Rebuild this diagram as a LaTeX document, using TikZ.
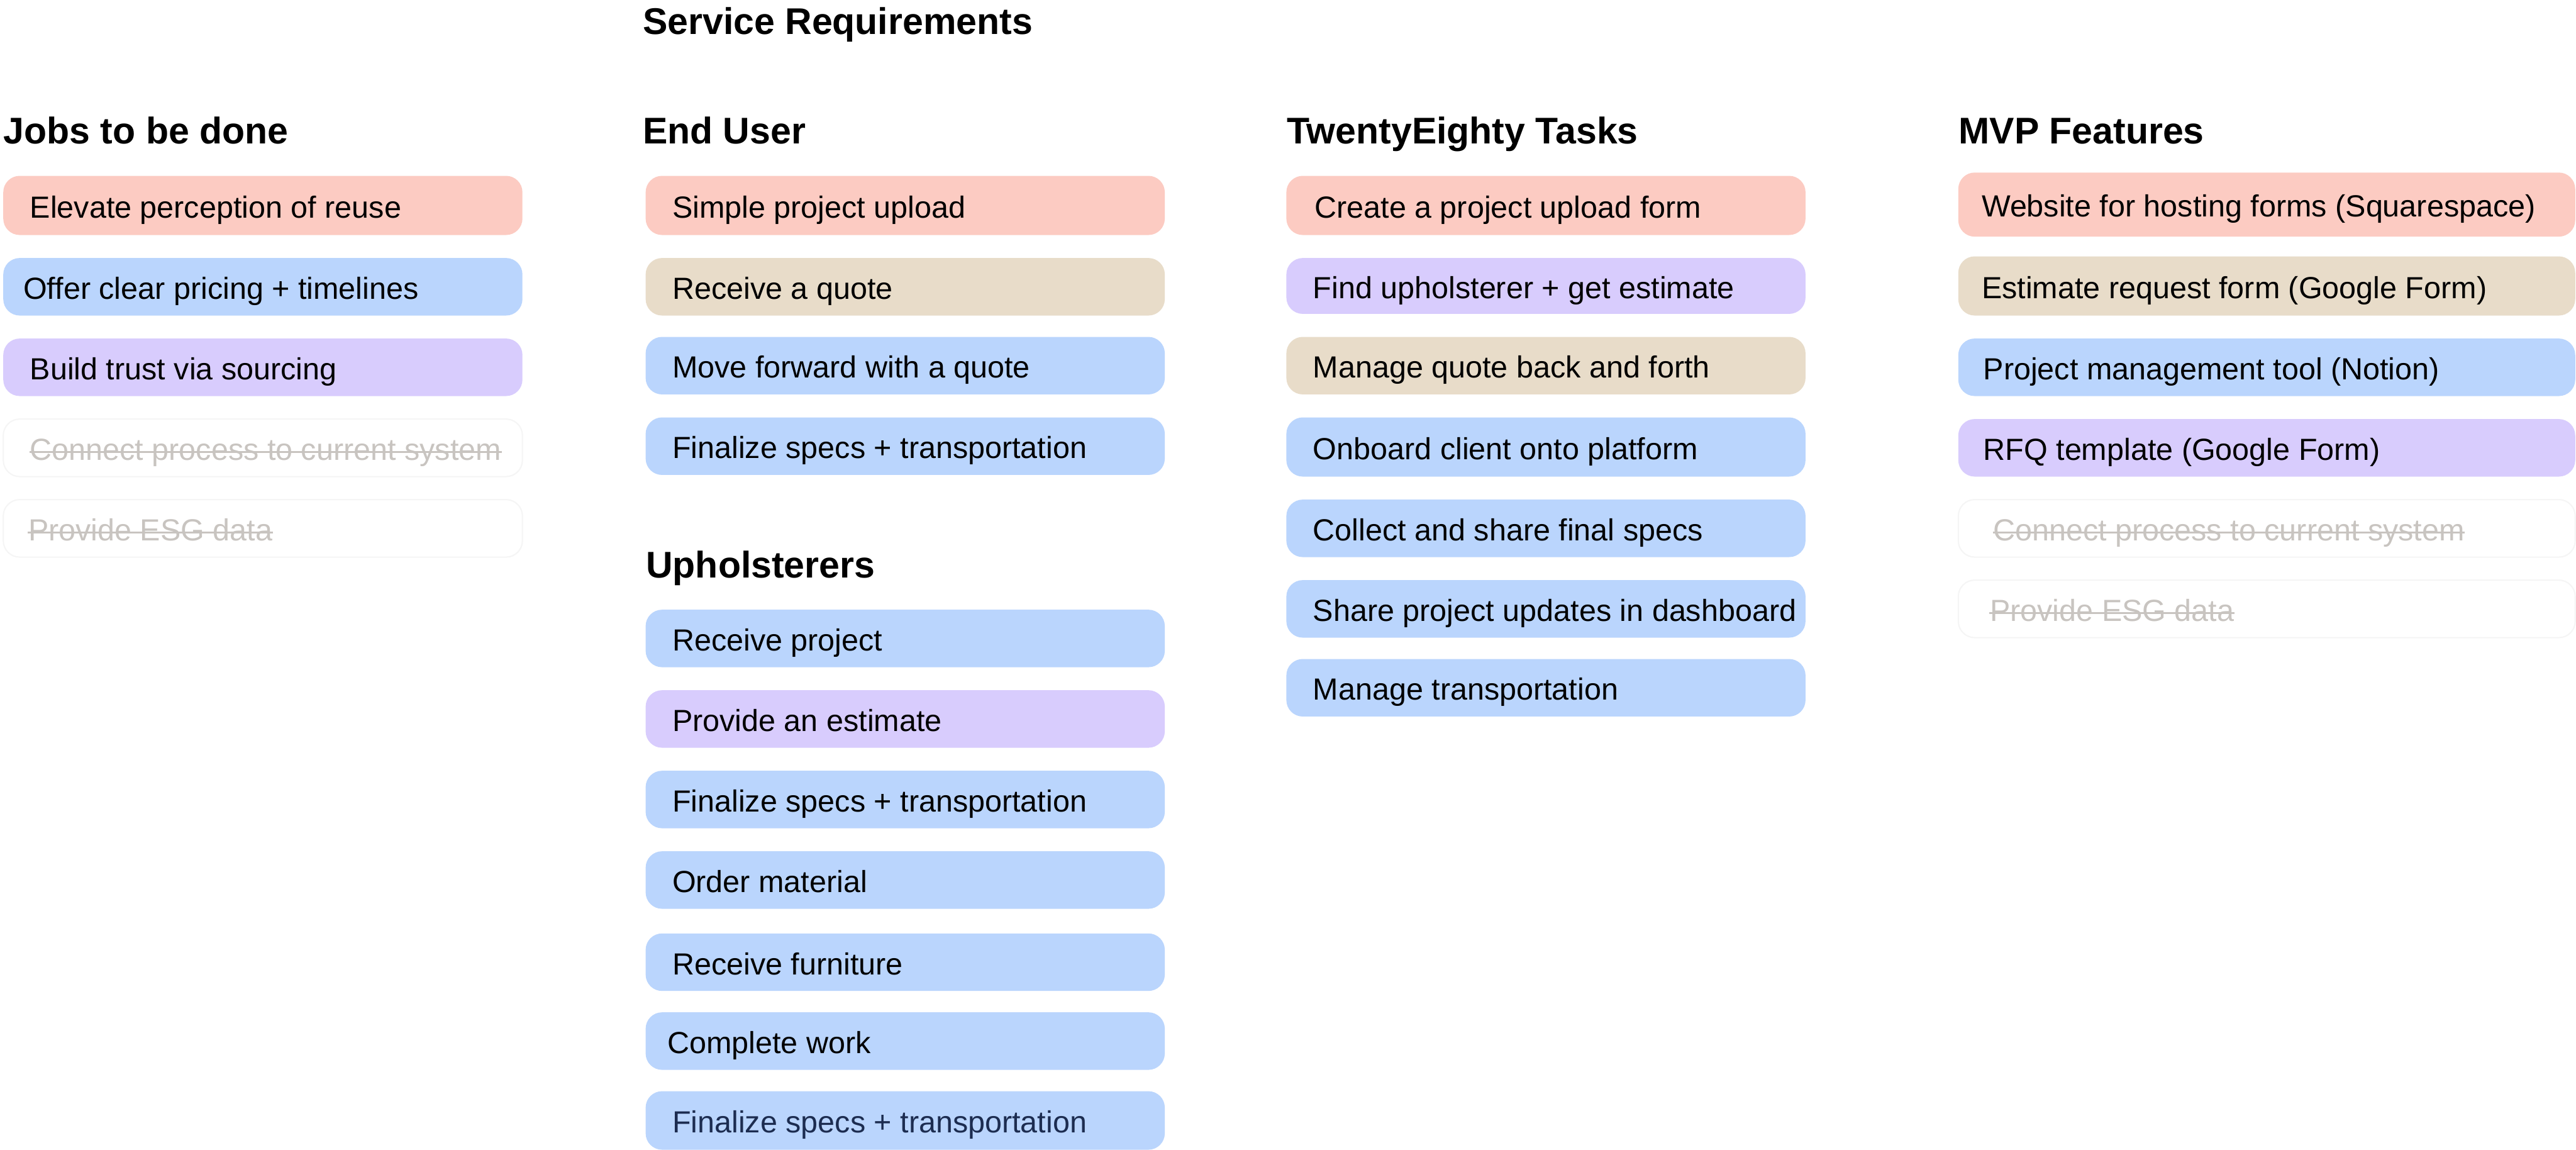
\documentclass[tikz,border=0pt]{standalone}
\usepackage{fontspec}
\setmainfont{Liberation Sans}
\usetikzlibrary{fit}
\definecolor{csalmon}{HTML}{FCCBC2}
\definecolor{cblue}{HTML}{BAD5FD}
\definecolor{cpurple}{HTML}{D8CCFD}
\definecolor{cbeige}{HTML}{E8DCC9}
\definecolor{cfade}{HTML}{C8C4C0}
\definecolor{cfadeline}{HTML}{F5F5F5}
\definecolor{cnavy}{HTML}{1C2C50}
\tikzset{
  card/.style={rounded corners=0.27cm, inner sep=0pt, draw=none},
  fadecard/.style={card, fill=white, draw=cfadeline, line width=0.6pt},
  cardtxt/.style={anchor=base west, inner sep=0pt, font=\fontsize{14.3}{17}\selectfont, yshift=-5.8pt},
  headtxt/.style={anchor=base west, inner sep=0pt, font=\fontsize{17.4}{21}\selectfont\bfseries},
  strike/.style={draw=cfade, line width=0.9pt},
}
\newcommand\card[8]{%
  \node[card, fill=#6, fit={(#2,#3)(#4,#5)}] (#1) {};
  \node[cardtxt] (#1t) at (#7,0 |- #1.center) {#8};
}
\newcommand\fcard[7]{%
  \node[fadecard, fit={(#2,#3)(#4,#5)}] (#1) {};
  \node[cardtxt, text=cfade] (#1t) at (#6,0 |- #1.center) {#7};
  \draw[strike] ([yshift=3.8pt]#1t.base west) -- ([yshift=3.8pt]#1t.base east);
}
\begin{document}
\begin{tikzpicture}[x=0.027073cm, y=-0.027073cm]
\useasboundingbox (0,0) rectangle (1568,699.6);
\fill[white] (0,0) rectangle (1568,699.6);

% headings
\node[headtxt] (title) at (391,21) {Service Requirements};
\node[headtxt] (hjobs) at (2,87.5) {Jobs to be done};
\node[headtxt] (huser) at (391,87.5) {End User};
\node[headtxt] (htask) at (783,87.5) {TwentyEighty Tasks};
\node[headtxt] (hmvp) at (1192,87.5) {MVP Features};
\node[headtxt] (hupho) at (393,351.5) {Upholsterers};

% Jobs to be done
\card{e1}{2}{107}{318}{143}{csalmon}{18}{Elevate perception of reuse}
\card{e2}{2}{157}{318}{192}{cblue}{14}{Offer clear pricing + timelines}
\card{e3}{2}{206}{318}{241}{cpurple}{18}{Build trust via sourcing}
\fcard{e4}{2}{255}{318}{290}{18}{Connect process to current system}
\fcard{e5}{2}{304}{318}{339}{17}{Provide ESG data}

% End User
\card{u1}{393}{107}{709}{143}{csalmon}{409}{Simple project upload}
\card{u2}{393}{157}{709}{192}{cbeige}{409}{Receive a quote}
\card{u3}{393}{205}{709}{240}{cblue}{409}{Move forward with a quote}
\card{u4}{393}{254}{709}{289}{cblue}{409}{Finalize specs + transportation}

% Upholsterers
\card{p1}{393}{371}{709}{406}{cblue}{409}{Receive project}
\card{p2}{393}{420}{709}{455}{cpurple}{409}{Provide an estimate}
\card{p3}{393}{469}{709}{504}{cblue}{409}{Finalize specs + transportation}
\card{p4}{393}{518}{709}{553}{cblue}{409}{Order material}
\card{p5}{393}{568}{709}{603}{cblue}{409}{Receive furniture}
\card{p6}{393}{616}{709}{651}{cblue}{406}{Complete work}
\card{p7}{393}{664}{709}{699.6}{cblue}{409}{\color{cnavy}Finalize specs + transportation}

% TwentyEighty Tasks
\card{t1}{783}{107}{1099}{143}{csalmon}{800}{Create a project upload form}
\card{t2}{783}{157}{1099}{191}{cpurple}{799}{Find upholsterer + get estimate}
\card{t3}{783}{205}{1099}{240}{cbeige}{799}{Manage quote back and forth}
\card{t4}{783}{254}{1099}{290}{cblue}{799}{Onboard client onto platform}
\card{t5}{783}{304}{1099}{339}{cblue}{799}{Collect and share final specs}
\card{t6}{783}{353}{1099}{388}{cblue}{799}{Share project updates in dashboard}
\card{t7}{783}{401}{1099}{436}{cblue}{799}{Manage transportation}

% MVP Features
\card{m1}{1192}{105}{1567.5}{144}{csalmon}{1206}{Website for hosting forms (Squarespace)}
\card{m2}{1192}{156}{1567.5}{192}{cbeige}{1206}{Estimate request form (Google Form)}
\card{m3}{1192}{206}{1567.5}{241}{cblue}{1207}{Project management tool (Notion)}
\card{m4}{1192}{255}{1567.5}{290}{cpurple}{1207}{RFQ template (Google Form)}
\fcard{m5}{1192}{304}{1567.5}{339}{1213}{Connect process to current system}
\fcard{m6}{1192}{353}{1567.5}{388}{1211}{Provide ESG data}
\end{tikzpicture}
\end{document}
